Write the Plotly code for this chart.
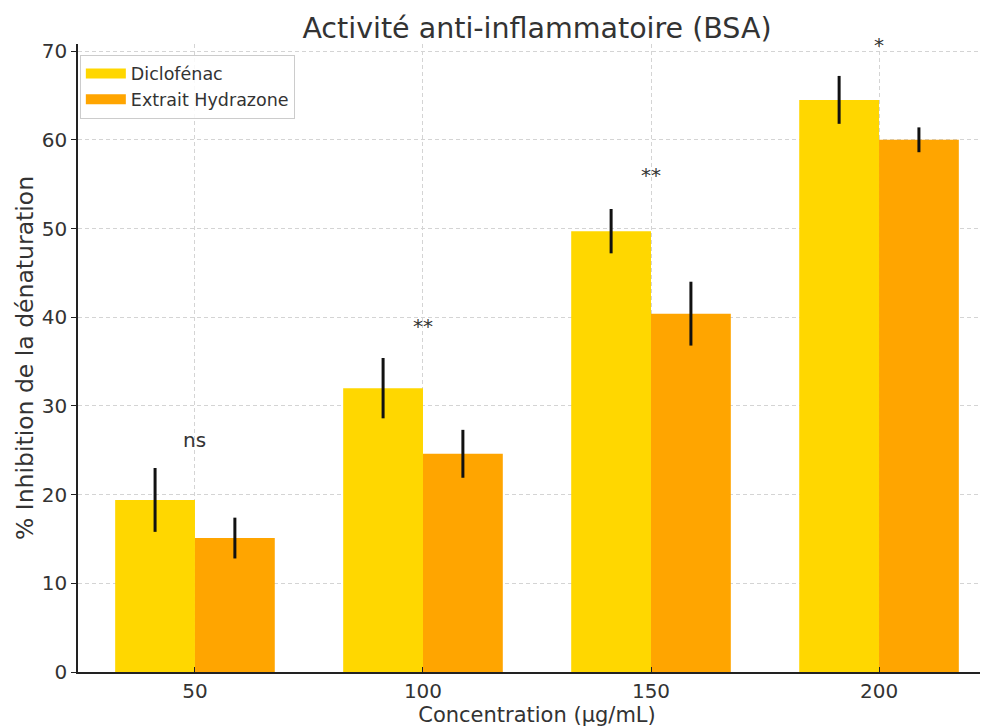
import plotly.graph_objects as go

categories = ["50", "100", "150", "200"]
diclofenac = [19.4, 32.0, 49.7, 64.5]
diclofenac_err = [3.6, 3.4, 2.5, 2.7]
hydrazone = [15.1, 24.6, 40.4, 60.0]
hydrazone_err = [2.3, 2.7, 3.6, 1.4]
signif = ["ns", "**", "**", "*"]
signif_y = [26.2, 39.0, 56.0, 70.7]

pos = list(range(len(categories)))
font_family = "DejaVu Sans"
txt = "#333333"
c_dic = "#FFD700"
c_hyd = "#FFA500"

fig = go.Figure()
fig.add_trace(go.Bar(
    x=pos, y=diclofenac, name="Diclofénac", width=0.35, offset=-0.35,
    marker=dict(color=c_dic, line=dict(width=0)), showlegend=False,
    error_y=dict(type="data", array=diclofenac_err, color="#111111", thickness=3, width=0),
))
fig.add_trace(go.Bar(
    x=pos, y=hydrazone, name="Extrait Hydrazone", width=0.35, offset=0,
    marker=dict(color=c_hyd, line=dict(width=0)), showlegend=False,
    error_y=dict(type="data", array=hydrazone_err, color="#111111", thickness=3, width=0),
))
# legend proxies (wide rectangular swatches like the reference)
for nm, col in [("Diclofénac", c_dic), ("Extrait Hydrazone", c_hyd)]:
    fig.add_trace(go.Scatter(x=[None], y=[None], mode="lines", name=nm,
                             line=dict(color=col, width=13), hoverinfo="skip"))

for p, s, yv in zip(pos, signif, signif_y):
    fig.add_annotation(x=p, y=yv, text=s, showarrow=False,
                       font=dict(family=font_family, size=20, color=txt),
                       xanchor="center", yanchor="middle")

fig.update_layout(
    width=988, height=726,
    barmode="overlay",
    paper_bgcolor="white", plot_bgcolor="white",
    font=dict(family=font_family, color=txt, size=18),
    margin=dict(l=70, r=0, t=36, b=62, autoexpand=False),
    title=dict(text="Activité anti-inflammatoire (BSA)", x=0.5, xanchor="center",
               xref="paper", y=0.9725, yanchor="middle",
               font=dict(family=font_family, size=28.5, color=txt)),
    legend=dict(x=0.002, y=0.983, xanchor="left", yanchor="top",
                bgcolor="rgba(255,255,255,0.85)", bordercolor="#cccccc", borderwidth=1,
                font=dict(family=font_family, size=17.5, color=txt),
                itemwidth=40, tracegroupgap=0),
    showlegend=True,
)
fig.update_xaxes(
    range=[-0.513, 3.513], tickvals=pos, ticktext=categories,
    showline=True, linecolor="#222222", linewidth=1.5, mirror=False,
    showgrid=True, gridcolor="#d4d4d4", griddash="4px,3px", gridwidth=1,
    ticks="inside", ticklen=5, tickcolor="#222222",
    tickfont=dict(size=20, color=txt),
    title=dict(text="Concentration (µg/mL)", font=dict(size=21, color=txt), standoff=2),
    zeroline=False,
)
fig.update_yaxes(
    range=[0, 70.8], tickvals=[0, 10, 20, 30, 40, 50, 60, 70],
    showline=True, linecolor="#222222", linewidth=1.5, mirror=False,
    showgrid=True, gridcolor="#d4d4d4", griddash="4px,3px", gridwidth=1,
    ticks="outside", ticklen=5, tickcolor="#222222",
    tickfont=dict(size=20, color=txt),
    title=dict(text="% Inhibition de la dénaturation", font=dict(size=23.5, color=txt), standoff=2),
    zeroline=False,
)

fig.write_html("out.html")
